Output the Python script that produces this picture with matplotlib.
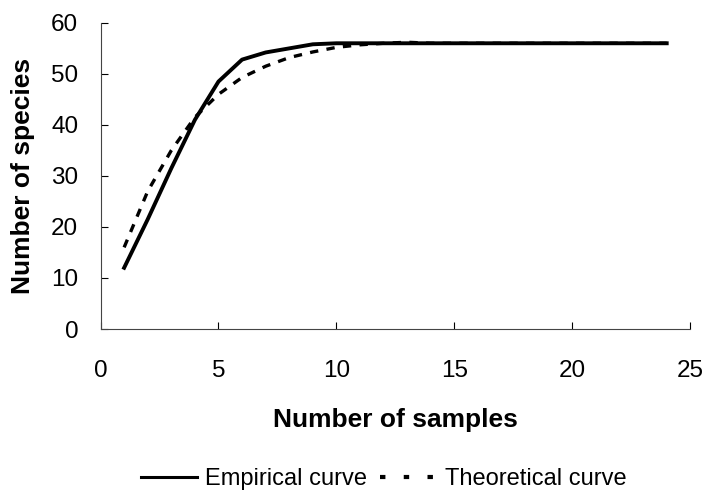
import matplotlib
matplotlib.use('Agg')
import matplotlib.pyplot as plt
from matplotlib.lines import Line2D

# species accumulation data
samples = list(range(1, 25))
empirical = [12, 21.5, 31.5, 41, 48.5, 52.8, 54.2, 55, 55.8, 56, 56, 56,
             56, 56, 56, 56, 56, 56, 56, 56, 56, 56, 56, 56]
theoretical = [16, 27, 35, 41.5, 46, 49.3, 51.5, 53.2, 54.3, 55.2, 55.7, 56,
               56.2, 56, 56, 56, 56, 56, 56, 56, 56, 56, 56, 56]

plt.rcParams['font.family'] = ['Liberation Sans', 'DejaVu Sans']

fig = plt.figure(figsize=(7.08, 4.97), dpi=100)
ax = fig.add_axes([0.142, 0.338, 0.833, 0.616])

ax.plot(samples, empirical, color='black', linewidth=2.8)
ax.plot(samples, theoretical, color='black', linewidth=2.4, dashes=(2.5, 2.5))

ax.set_xlim(0, 25)
ax.set_ylim(0, 60)
ax.set_xticks(range(0, 26, 5))
ax.set_yticks(range(0, 61, 10))

for side in ['top', 'right']:
    ax.spines[side].set_visible(False)
for side in ['left', 'bottom']:
    ax.spines[side].set_linewidth(0.8)
    ax.spines[side].set_color('#444444')

ax.tick_params(direction='in', length=5, width=0.8, labelsize=17.5)
ax.tick_params(axis='x', pad=22)
ax.tick_params(axis='y', pad=16)

ax.set_xlabel('Number of samples', fontsize=19, fontweight='bold', labelpad=19)
ax.set_ylabel('Number of species', fontsize=19, fontweight='bold', labelpad=12)

# legend handles: Excel draws the legend dash pattern sparser than the curve
handles = [Line2D([], [], color='black', linewidth=2.2),
           Line2D([], [], color='black', linewidth=3.0, dashes=(1.3, 4.4))]
fig.legend(handles, ['Empirical curve', 'Theoretical curve'],
           loc='center', bbox_to_anchor=(0.542, 0.036), ncol=2, frameon=False,
           fontsize=17, handlelength=2.4, handletextpad=0.34, columnspacing=0.55,
           borderpad=0, borderaxespad=0)

plt.savefig('out.png', dpi=100)
plt.close()
